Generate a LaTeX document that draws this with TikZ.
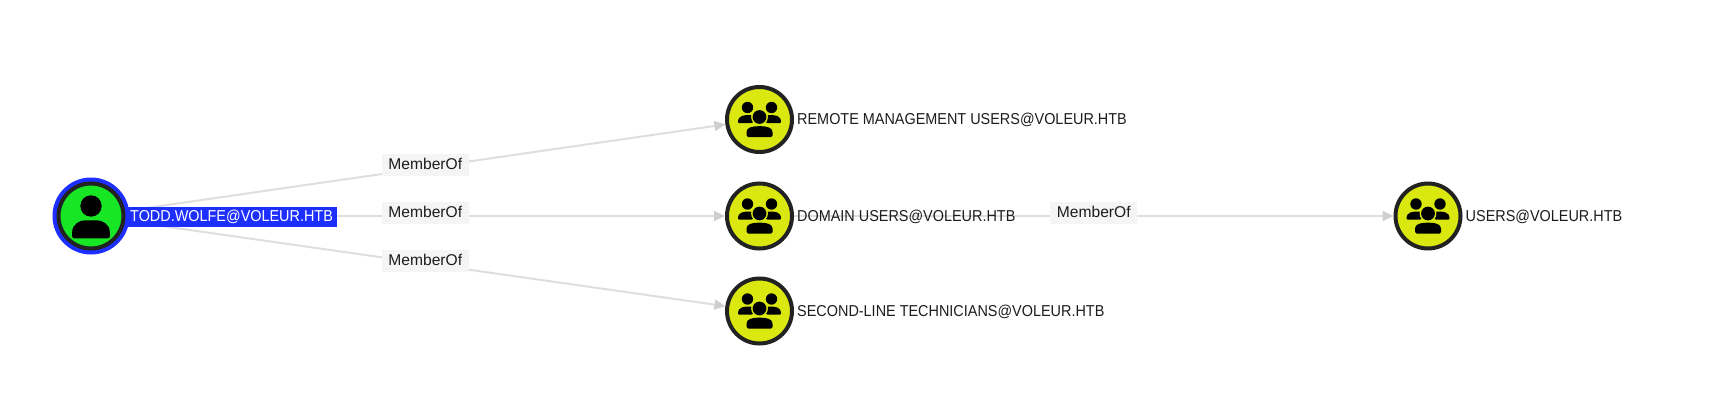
\documentclass[tikz,border=0pt]{standalone}
\usepackage{fontspec}
\setmainfont{Liberation Sans}
\newfontfamily\narrowcaps[FakeStretch=0.913]{Liberation Sans}
\usetikzlibrary{arrows.meta}
\pgfdeclarelayer{edges}
\pgfsetlayers{edges,main}
\definecolor{edgegray}{HTML}{DEDEDE}
\definecolor{tipgray}{HTML}{CFCFCF}
\definecolor{ringdark}{HTML}{222222}
\definecolor{grouplime}{HTML}{DAE810}
\definecolor{usergreen}{HTML}{17E625}
\definecolor{selblue}{HTML}{1D2FFF}
\definecolor{labelbg}{HTML}{F5F5F5}
\definecolor{txt}{HTML}{1C1C1C}
\tikzset{
  x=1pt,y=-1pt,
  groupnode/.style={circle,draw=ringdark,line width=4pt,fill=grouplime,minimum size=65pt,inner sep=0pt},
  usernode/.style={circle,draw=ringdark,line width=4pt,fill=usergreen,minimum size=65pt,inner sep=0pt},
  nodelabel/.style={anchor=west,inner sep=0pt,text=txt,font=\narrowcaps\fontsize{15.8}{18}\selectfont},
  edgeline/.style={draw=edgegray,line width=2pt,-{Triangle[length=11pt,width=10pt,color=tipgray]}},
  edgelabel/.style={fill=labelbg,text=txt,font=\fontsize{15.6}{18}\selectfont,minimum width=87pt,minimum height=22pt,inner sep=0pt,text depth=2pt,yshift=3pt},
}
\newcommand{\groupicon}[1]{%
  \begin{scope}[shift={(#1)}]
    \fill[black] (-12,-12) circle (5.7);
    \fill[black] (12,-12) circle (5.7);
    \fill[black,rounded corners=1pt] (-21.5,3.6) .. controls (-21.5,-4.5) and (-15,-4.5) .. (-8,-4.5) -- (-5,0) -- (-7,3.6) -- cycle;
    \fill[black,rounded corners=1pt] (21.5,3.6) .. controls (21.5,-4.5) and (15,-4.5) .. (8,-4.5) -- (5,0) -- (7,3.6) -- cycle;
    \fill[grouplime] (0,-2.5) circle (8.4);
    \fill[black] (0,-2.5) circle (6.9);
    \fill[black,rounded corners=1.5pt] (-13,17.5) -- (-13,14) .. controls (-13,8) and (-7,6.7) .. (0,6.7) .. controls (7,6.7) and (13,8) .. (13,14) -- (13,17.5) -- cycle;
  \end{scope}}
\newcommand{\usericon}[1]{%
  \begin{scope}[shift={(#1)}]
    \fill[black] (0,-10) circle (10.7);
    \fill[black,rounded corners=2pt] (-18.8,22.3) -- (-18.8,18) .. controls (-18.8,8) and (-11,4.3) .. (-4,4.3) -- (4,4.3) .. controls (11,4.3) and (18.8,8) .. (18.8,18) -- (18.8,22.3) -- cycle;
  \end{scope}}
\begin{document}
\begin{tikzpicture}
\useasboundingbox (0,0) rectangle (1735,404);
% nodes
\node[nodelabel,fill=selblue,text=white,minimum height=20pt,minimum width=210pt,align=left,text width=210pt] (lt) at (127,216.5) {\hspace{3pt}TODD.WOLFE@VOLEUR.HTB};
\node[circle,fill=selblue,minimum size=77pt,inner sep=0pt] (halo) at (91,216) {};
\node[usernode] (todd) at (91,216) {};
\node[groupnode] (rmu) at (759.5,119.5) {};
\node[groupnode] (du) at (759.5,216) {};
\node[groupnode] (slt) at (759.5,311) {};
\node[groupnode] (users) at (1428,216) {};
% edges
\begin{pgfonlayer}{edges}
\draw[edgeline] (todd) -- (rmu);
\draw[edgeline] (todd) -- (du);
\draw[edgeline] (todd) -- (slt);
\draw[edgeline] (du) -- (users);
\end{pgfonlayer}
\path (todd) -- node[edgelabel,pos=0.5] (e1) {MemberOf} (rmu);
\path (todd) -- node[edgelabel,pos=0.5] (e2) {MemberOf} (du);
\path (todd) -- node[edgelabel,pos=0.5] (e3) {MemberOf} (slt);
\path (du) -- node[edgelabel,pos=0.5] (e4) {MemberOf} (users);
% labels
\node[nodelabel] (l1) at (797,120) {REMOTE MANAGEMENT USERS@VOLEUR.HTB};
\node[nodelabel] (l2) at (797,216.5) {DOMAIN USERS@VOLEUR.HTB};
\node[nodelabel] (l3) at (797,311.5) {SECOND-LINE TECHNICIANS@VOLEUR.HTB};
\node[nodelabel] (l4) at (1465.5,216.5) {USERS@VOLEUR.HTB};
% icons
\usericon{91,216}
\groupicon{759.5,119.5}
\groupicon{759.5,216}
\groupicon{759.5,311}
\groupicon{1428,216}
\end{tikzpicture}
\end{document}
